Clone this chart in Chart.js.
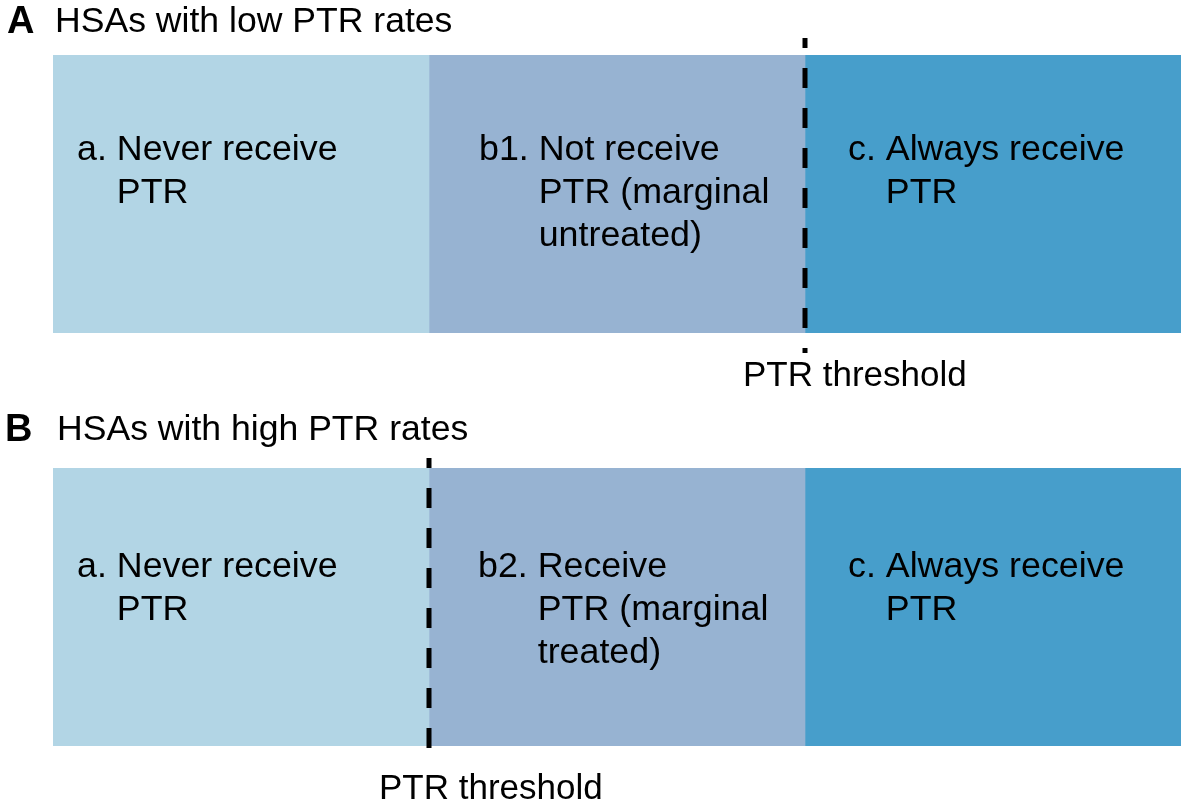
<!DOCTYPE html>
<html>
<head>
<meta charset="utf-8">
<script src="https://cdn.jsdelivr.net/npm/chart.js@4"></script>
<style>
  html, body { margin: 0; padding: 0; background: #fff; }
  #wrap { position: relative; width: 1181px; height: 803px; overflow: hidden; }
  canvas { position: absolute; left: 0; }
  #chartA { top: 0; }
  #chartB { top: 400px; }
  .letter, .title {
    position: absolute; margin: 0; line-height: 1; white-space: nowrap;
    font-family: "Liberation Sans", Arial, sans-serif; color: #000;
  }
  .letter { font-weight: bold; font-size: 38px; }
  .title { font-size: 35.6px; }
</style>
</head>
<body>
<div id="wrap">
  <canvas id="chartA" width="1181" height="400"></canvas>
  <canvas id="chartB" width="1181" height="403"></canvas>
  <div class="letter" style="left:7px;top:1px">A</div>
  <div class="title" style="left:55px;top:3px">HSAs with low PTR rates</div>
  <div class="letter" style="left:5px;top:409px">B</div>
  <div class="title" style="left:57px;top:411px">HSAs with high PTR rates</div>
</div>
<script>
'use strict';
// data
const segmentNames = ['never', 'marginal', 'always'];
const segmentWidths = [1, 1, 1];
const segmentColors = ['#b2d5e5', '#97b3d2', '#479ecb'];

const labelsA = [
  ['a. Never receive', 'PTR'],
  ['b1. Not receive', 'PTR (marginal', 'untreated)'],
  ['c. Always receive', 'PTR'],
];
const labelsB = [
  ['a. Never receive', 'PTR'],
  ['b2. Receive', 'PTR (marginal', 'treated)'],
  ['c. Always receive', 'PTR'],
];
const thresholdA = 2;
const thresholdB = 1;
const thresholdLabel = 'PTR threshold';

const SEG_FONT = '35.8px "Liberation Sans", Arial, sans-serif';
const LABEL_FONT = '35px "Liberation Sans", Arial, sans-serif';

// draws the segment texts, dashed threshold and its label
const annotate = {
  id: 'annotate',
  afterDatasetsDraw(chart, args, opts) {
    const ctx = chart.ctx;
    const area = chart.chartArea;
    const xs = chart.scales.x;
    ctx.save();
    ctx.font = SEG_FONT;
    ctx.fillStyle = '#000';
    ctx.textBaseline = 'alphabetic';
    ctx.textAlign = 'left';

    opts.labels.forEach((lines, i) => {
      const bar = chart.getDatasetMeta(i).data[0];
      const left = Math.min(bar.x, bar.base) + opts.textDx[i];
      let y = area.top + opts.textTop;
      const first = lines[0];
      const cut = first.indexOf(' ');
      const indent = ctx.measureText(first.slice(0, cut + 1)).width;
      lines.forEach((line, j) => {
        ctx.fillText(line, j === 0 ? left : left + indent, y);
        y += 43;
      });
    });

    const tx = xs.getPixelForValue(opts.threshold);
    ctx.strokeStyle = '#000';
    ctx.lineWidth = 5;
    ctx.setLineDash([20, 20]);
    ctx.lineDashOffset = 10;
    ctx.beginPath();
    ctx.moveTo(tx, area.top - opts.lineAbove);
    ctx.lineTo(tx, area.bottom + opts.lineBelow);
    ctx.stroke();
    ctx.setLineDash([]);

    ctx.font = LABEL_FONT;
    ctx.fillText(thresholdLabel, tx + opts.labelDx, area.bottom + 53);
    ctx.restore();
  },
};

function makeChart(id, labels, threshold, padding, extra) {
  return new Chart(document.getElementById(id), {
    type: 'bar',
    data: {
      labels: [''],
      datasets: segmentNames.map((name, i) => ({
        label: name,
        data: [segmentWidths[i]],
        backgroundColor: segmentColors[i],
        borderWidth: 0,
        barPercentage: 1,
        categoryPercentage: 1,
      })),
    },
    options: {
      indexAxis: 'y',
      responsive: false,
      animation: false,
      devicePixelRatio: 1,
      layout: { padding: padding },
      scales: {
        x: { stacked: true, min: 0, max: 3, display: false },
        y: { stacked: true, display: false },
      },
      plugins: {
        legend: { display: false },
        tooltip: { enabled: false },
        annotate: Object.assign({ labels: labels, threshold: threshold }, extra),
      },
    },
    plugins: [annotate],
  });
}

makeChart('chartA', labelsA, thresholdA,
  { left: 53, right: 0, top: 55, bottom: 67 },
  { textDx: [24, 50, 43], textTop: 105, lineAbove: 17, lineBelow: 20, labelDx: -62 });

makeChart('chartB', labelsB, thresholdB,
  { left: 53, right: 0, top: 68, bottom: 57 },
  { textDx: [24, 49, 43], textTop: 109, lineAbove: 10, lineBelow: 11, labelDx: -50 });
</script>
</body>
</html>
